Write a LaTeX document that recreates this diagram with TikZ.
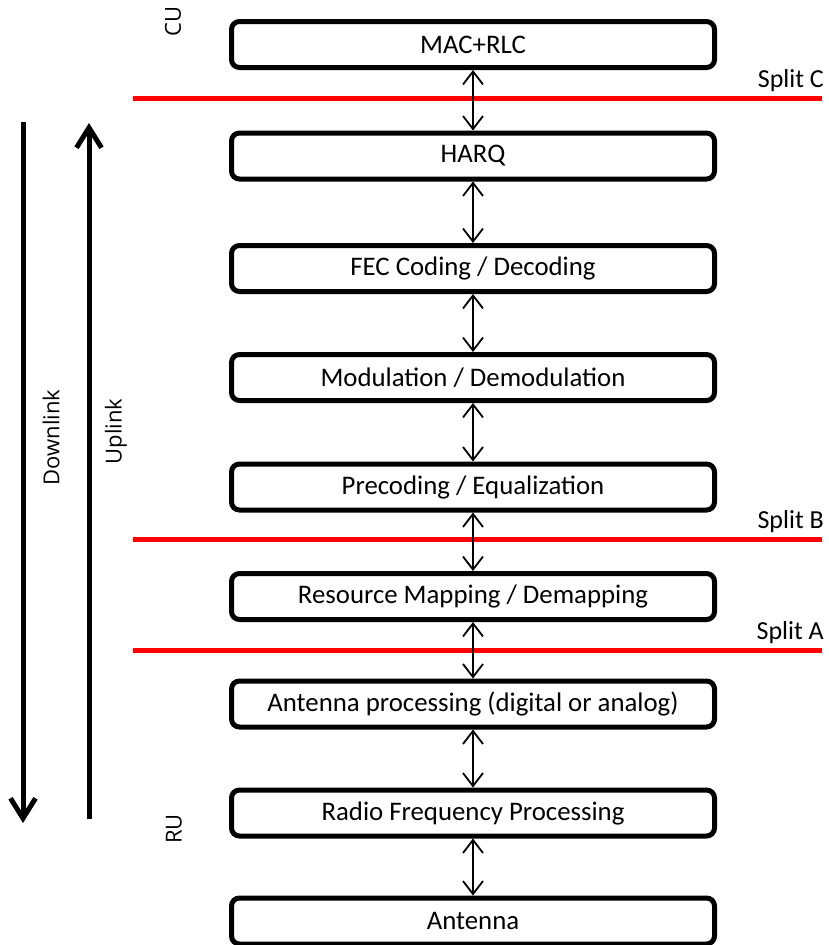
\documentclass[tikz,border=0pt]{standalone}
\usepackage{fontspec}
\setmainfont{Carlito}
\newfontfamily\labfont{Open Sans}
\usetikzlibrary{arrows.meta}
\tikzset{
  stage/.style={draw=black, line width=5pt, rounded corners=8pt, minimum width=483pt, minimum height=46pt,
    inner sep=0pt, font=\fontsize{26.8}{30}\selectfont, fill=white},
  link/.style={line width=1.8pt, {Straight Barb[length=13pt,width=20pt]}-{Straight Barb[length=13pt,width=20pt]}},
  flow/.style={line width=5pt, -{Straight Barb[length=20pt,width=25pt]}},
  splitline/.style={draw=red, line width=5pt},
  splitlab/.style={anchor=base east, inner sep=0pt, font=\fontsize{26}{30}\selectfont},
  side/.style={rotate=90, inner sep=0pt, font=\labfont\fontsize{22}{26}\selectfont}
}
\begin{document}
\begin{tikzpicture}[x=1pt,y=-1pt]
\useasboundingbox (0,0) rectangle (828,945);
% split lines
\coordinate (cL) at (133,98.5); \coordinate (cR) at (822,98.5);
\coordinate (bL) at (133,539); \coordinate (bR) at (822,539);
\coordinate (aL) at (133,650); \coordinate (aR) at (822,650);
\draw[splitline] (cL) -- (cR);
\draw[splitline] (bL) -- (bR);
\draw[splitline] (aL) -- (aR);
\node[splitlab] (sc) at (824,87) {Split C};
\node[splitlab] (sb) at (824,528) {Split B};
\node[splitlab] (sa) at (824,639) {Split A};
% stages
\node[stage] (m1) at (473,44.5) {MAC+RLC};
\node[stage] (m2) at (473,156) {HARQ};
\node[stage] (m3) at (473,268.5) {FEC Coding / Decoding};
\node[stage] (m4) at (473,377.5) {Modulation / Demodulation};
\node[stage] (m5) at (473,487) {Precoding / Equalization};
\node[stage] (m6) at (473,596.5) {Resource Mapping / Demapping};
\node[stage] (m7) at (473,704) {Antenna processing (digital or analog)};
\node[stage] (m8) at (473,813) {Radio Frequency Processing};
\node[stage] (m9) at (473,921) {Antenna};
\foreach \a/\b in {m1/m2,m2/m3,m3/m4,m4/m5,m5/m6,m6/m7,m7/m8,m8/m9}
  \draw[link] (\a.south) -- (\b.north);
% side labels
\node[side] (cu) at (173,21.5) {CU};
\node[side] (ru) at (174,829) {RU};
\node[side] (dl) at (51,437.5) {Downlink};
\node[side] (ul) at (116,431.5) {Uplink};
% flow arrows
\coordinate (d1) at (23,122); \coordinate (d2) at (23,823);
\coordinate (u1) at (89,819); \coordinate (u2) at (89,123);
\draw[flow] (d1) -- (d2);
\draw[flow] (u1) -- (u2);
\end{tikzpicture}
\end{document}
